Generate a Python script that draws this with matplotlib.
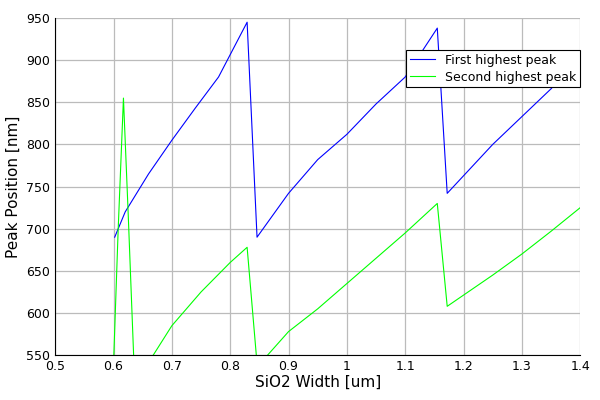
import matplotlib
matplotlib.use('Agg')
from matplotlib import pyplot as plt

# peak positions
x1 = [0.602, 0.62, 0.66, 0.70, 0.74, 0.78, 0.829, 0.846, 0.90, 0.95, 1.00, 1.05, 1.10, 1.155, 1.172, 1.25, 1.30, 1.35, 1.40]
y1 = [690, 720, 765, 805, 843, 880, 945, 690, 742, 782, 812, 848, 880, 938, 742, 800, 833, 866, 905]
x2 = [0.600, 0.608, 0.617, 0.625, 0.635, 0.668, 0.70, 0.75, 0.80, 0.829, 0.846, 0.864, 0.90, 0.95, 1.00, 1.05, 1.10, 1.155, 1.172, 1.25, 1.30, 1.35, 1.40]
y2 = [540, 700, 855, 720, 540, 550, 585, 625, 660, 678, 540, 550, 578, 605, 635, 665, 695, 730, 608, 645, 670, 697, 725]

fig = plt.figure(figsize=(6, 4), dpi=100)
ax = fig.add_axes([0.092, 0.112, 0.875, 0.843])
ax.plot(x1, y1, color='blue', lw=0.8, label='First highest peak')
ax.plot(x2, y2, color='lime', lw=0.8, label='Second highest peak')
ax.set_xlim(0.5, 1.4)
ax.set_ylim(550, 950)
ax.set_xticks([0.5, 0.6, 0.7, 0.8, 0.9, 1.0, 1.1, 1.2, 1.3, 1.4])
ax.set_xticklabels(['0.5', '0.6', '0.7', '0.8', '0.9', '1', '1.1', '1.2', '1.3', '1.4'])
ax.grid(True, color='#bbbbbb', lw=0.9)
ax.tick_params(labelsize=9, length=0)
for s in ['top', 'right']:
    ax.spines[s].set_visible(False)
ax.set_xlabel('SiO2 Width [um]', fontsize=11, labelpad=1)
ax.set_ylabel('Peak Position [nm]', fontsize=11)
leg = ax.legend(loc='upper right', bbox_to_anchor=(1.0, 0.905), fontsize=9, fancybox=False,
                framealpha=1, edgecolor='black', borderaxespad=0, handlelength=2.0,
                borderpad=0.3, labelspacing=0.3)
leg.get_frame().set_linewidth(0.8)
fig.savefig('out.png')
